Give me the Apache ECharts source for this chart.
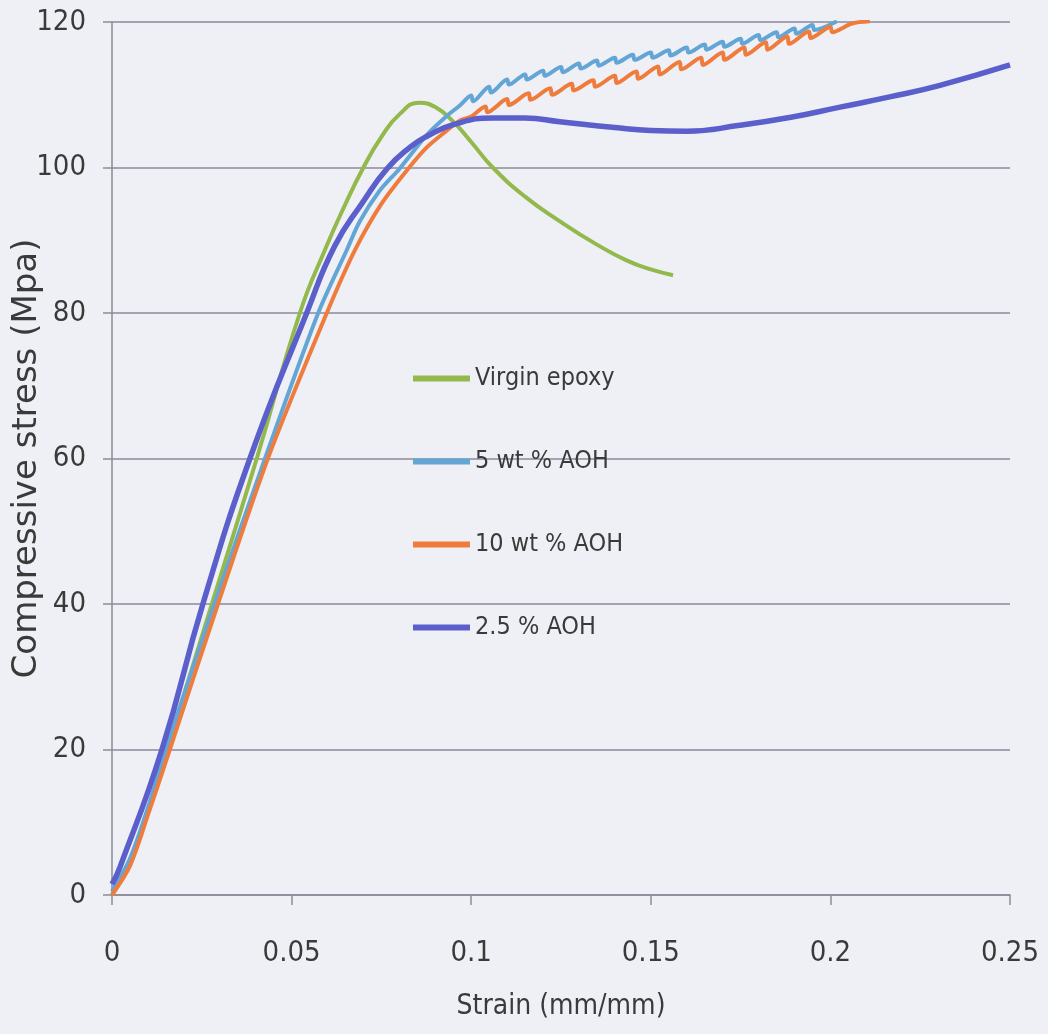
<!DOCTYPE html>
<html>
<head>
<meta charset="utf-8">
<script src="https://cdn.jsdelivr.net/npm/echarts@6/dist/echarts.min.js"></script>
<style>
html,body{margin:0;padding:0;background:#eef0f5;}
#chart{width:1048px;height:1034px;}
</style>
</head>
<body>
<div id="chart"></div>
<script>
// ---- data (strain mm/mm, stress MPa) ----
const seriesNames = ['Virgin epoxy', '5 wt % AOH', '10 wt % AOH', '2.5 % AOH'];
const xTicks = [0, 0.05, 0.1, 0.15, 0.2, 0.25];
const yTicks = [0, 20, 40, 60, 80, 100, 120];

const virginEpoxy = [
  [0,0],[0.005,4.8],[0.010,11.5],[0.0153,20],[0.0278,40],[0.0403,60],[0.0523,80],
  [0.0593,88.7],[0.065,95],[0.070,100],[0.075,104.2],[0.080,107.3],[0.0855,108.9],
  [0.090,108.3],[0.095,106.3],[0.100,103.5],[0.106,100],[0.115,96],[0.1247,92.6],
  [0.135,89.4],[0.1434,87.2],[0.150,86.0],[0.1562,85.2]
];

const aoh5 = [
  [0,0.5],[0.005,5],[0.010,12],[0.0150,20],[0.0285,40],[0.0426,60],[0.0574,80],
  [0.0654,88.7],[0.069,92.6],[0.0745,96.8],[0.080,99.8],[0.0877,104.5],[0.093,107.0],[0.097,108.6],
  [0.100,109.9],[0.1005,109.1],[0.105,111.1],[0.1055,110.3],[0.110,112.1],[0.1105,111.4],
  [0.115,112.8],[0.1155,112.1],[0.120,113.3],[0.1205,112.6],[0.125,113.8],[0.1255,113.1],
  [0.130,114.3],[0.1305,113.6],[0.135,114.7],[0.1355,114.0],[0.140,115.1],[0.1405,114.4],
  [0.145,115.5],[0.1455,114.8],[0.150,115.8],[0.1505,115.1],[0.155,116.1],[0.1555,115.4],
  [0.160,116.5],[0.1605,115.8],[0.165,116.9],[0.1655,116.2],[0.170,117.3],[0.1705,116.6],
  [0.175,117.7],[0.1755,117.0],[0.180,118.2],[0.1805,117.5],[0.185,118.6],[0.1855,117.9],
  [0.190,119.1],[0.1905,118.4],[0.195,119.6],[0.1955,118.9],[0.2018,120.1]
];

const aoh10 = [
  [0,0],[0.005,4],[0.010,11],[0.0161,20],[0.0295,40],[0.0434,60],[0.0598,80],
  [0.0677,88.7],[0.075,95],[0.0824,99.8],[0.0877,102.8],[0.093,105.0],
  [0.097,106.5],[0.100,107.0],[0.104,108.4],[0.1045,107.6],[0.110,109.4],[0.1105,108.6],
  [0.116,110.2],[0.1165,109.3],[0.122,110.9],[0.1225,110.0],[0.128,111.5],[0.1285,110.6],
  [0.134,112.0],[0.1345,111.1],[0.140,112.6],[0.1405,111.6],[0.146,113.2],[0.1465,112.2],
  [0.152,113.9],[0.1525,112.8],[0.158,114.5],[0.1585,113.5],[0.164,115.1],[0.1645,114.1],
  [0.170,115.8],[0.1705,114.8],[0.176,116.5],[0.1765,115.5],[0.182,117.2],[0.1825,116.2],
  [0.188,118.0],[0.1885,117.0],[0.194,118.7],[0.1945,117.8],[0.200,119.3],[0.2005,118.6],
  [0.206,119.8],[0.211,120.1]
];

const aoh25 = [
  [0,1.5],[0.0022,3.8],[0.0139,20],[0.0253,40],[0.0384,60],[0.0542,80],
  [0.0620,89.2],[0.0699,95.3],[0.0765,99.8],[0.083,102.8],[0.0877,104.3],[0.095,105.9],
  [0.106,106.8],[0.115,106.8],[0.1247,106.3],[0.140,105.5],[0.150,105.1],[0.160,105.0],
  [0.1748,105.8],[0.189,106.9],[0.2027,108.3],[0.2165,109.7],[0.2305,111.3],[0.250,114.1]
];

const seriesData = [virginEpoxy, aoh5, aoh10, aoh25];
const seriesColors = ['#93b94c', '#63a6d6', '#ef7c3c', '#5b5fcc'];
const seriesWidths = [4, 4, 4, 5.5];
const seriesSmooth = [0.5, 0.3, 0.3, 0.5];

const narrow = "'Liberation Sans Narrow', 'DejaVu Sans Condensed', sans-serif";
const gridColor = '#8d8a9a';

const chart = echarts.init(document.getElementById('chart'), null, {renderer: 'canvas'});
chart.setOption({
  backgroundColor: '#eef0f5',
  animation: false,
  grid: {left: 112, right: 38, top: 22, bottom: 139, containLabel: false, outerBoundsMode: 'none'},
  legend: {
    orient: 'vertical',
    left: 413,
    top: 366,
    padding: 0,
    itemWidth: 57,
    itemHeight: 6,
    itemGap: 58,
    icon: 'rect',
    data: seriesNames,
    textStyle: {fontFamily: narrow, fontSize: 25, color: '#3a3a3a'}
  },
  xAxis: {
    type: 'value',
    min: 0, max: 0.25, interval: 0.05,
    name: 'Strain (mm/mm)',
    nameLocation: 'middle',
    nameGap: 98,
    nameMoveOverlap: false,
    nameTextStyle: {fontFamily: narrow, fontSize: 28, color: '#3a3a3a'},
    axisLine: {show: true, lineStyle: {color: gridColor, width: 1.5}},
    axisTick: {show: true, inside: false, length: 10, lineStyle: {color: gridColor, width: 1.5}},
    axisLabel: {
      margin: 44, fontFamily: narrow, fontSize: 29, color: '#3a3a3a',
      formatter: v => String(xTicks.find(t => Math.abs(t - v) < 1e-9) ?? v)
    },
    splitLine: {show: false}
  },
  yAxis: {
    type: 'value',
    min: 0, max: 120, interval: 20,
    name: 'Compressive stress (Mpa)',
    nameLocation: 'middle',
    nameGap: 68,
    nameMoveOverlap: false,
    nameRotate: 90,
    nameTextStyle: {fontFamily: "'DejaVu Sans', sans-serif", fontSize: 34, color: '#3a3a3a'},
    axisLine: {show: true, lineStyle: {color: gridColor, width: 1.5}},
    axisTick: {show: true, inside: false, length: 9, lineStyle: {color: gridColor, width: 1.5}},
    axisLabel: {
      margin: 26, fontFamily: narrow, fontSize: 29, color: '#3a3a3a',
      formatter: v => String(yTicks.find(t => t === v) ?? v)
    },
    splitLine: {show: true, lineStyle: {color: gridColor, width: 1.5}}
  },
  series: seriesNames.map((name, i) => ({
    name: name,
    type: 'line',
    data: seriesData[i],
    showSymbol: false,
    symbol: 'none',
    smooth: seriesSmooth[i],
    clip: true,
    z: i === 3 ? 3 : 2,
    color: seriesColors[i],
    lineStyle: {color: seriesColors[i], width: seriesWidths[i]}
  }))
});
</script>
</body>
</html>
